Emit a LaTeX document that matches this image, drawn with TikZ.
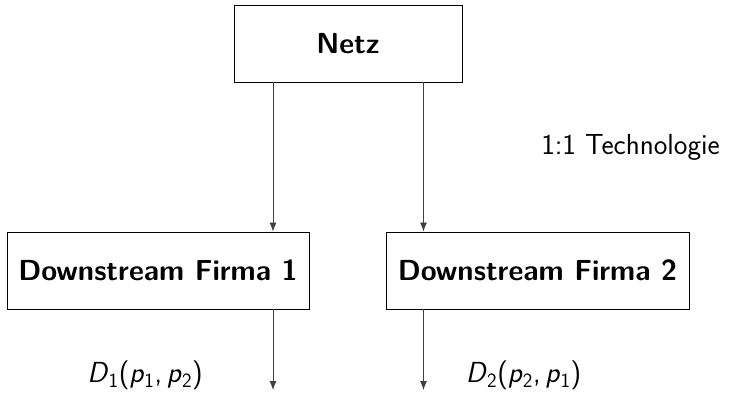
\documentclass[tikz,border=0pt]{standalone}
\usetikzlibrary{arrows.meta}
\begin{document}
\begin{tikzpicture}[x=1pt,y=-1pt,
  every node/.style={font=\fontsize{29}{34}\selectfont\sffamily},
  firmbox/.style={draw, line width=0.9pt, inner sep=0pt, minimum height=77pt, font=\fontsize{29}{34}\selectfont\sffamily\bfseries},
  flow/.style={line width=0.8pt, draw=black!75, -{Latex[length=9pt,width=7pt]}},
  lbl/.style={inner sep=0pt}]
\useasboundingbox (0,0) rectangle (731,392);
\node[firmbox, minimum width=228pt] (netz) at (348,43.5) {Netz};
\node[firmbox, minimum width=302pt] (f1) at (158,270.5) {Downstream Firma 1};
\node[firmbox, minimum width=303pt] (f2) at (537.5,270.5) {Downstream Firma 2};
\coordinate (a1) at (273,0);
\coordinate (a2) at (423.5,0);
\coordinate (e1) at (273,390);
\coordinate (e2) at (423.5,390);
\draw[flow] (netz.south -| a1) -- (f1.north -| a1);
\draw[flow] (netz.south -| a2) -- (f2.north -| a2);
\draw[flow] (f1.south -| a1) -- (e1);
\draw[flow] (f2.south -| a2) -- (e2);
\node[lbl] (tech) at (630.5,147) {1:1 Technologie};
\node[lbl, anchor=base] (d1) at (145,382) {\textit{D}\textsubscript{1}(\textit{p}\textsubscript{1},\,\textit{p}\textsubscript{2})};
\node[lbl, anchor=base] (d2) at (523.5,382) {\textit{D}\textsubscript{2}(\textit{p}\textsubscript{2},\,\textit{p}\textsubscript{1})};
\end{tikzpicture}
\end{document}
